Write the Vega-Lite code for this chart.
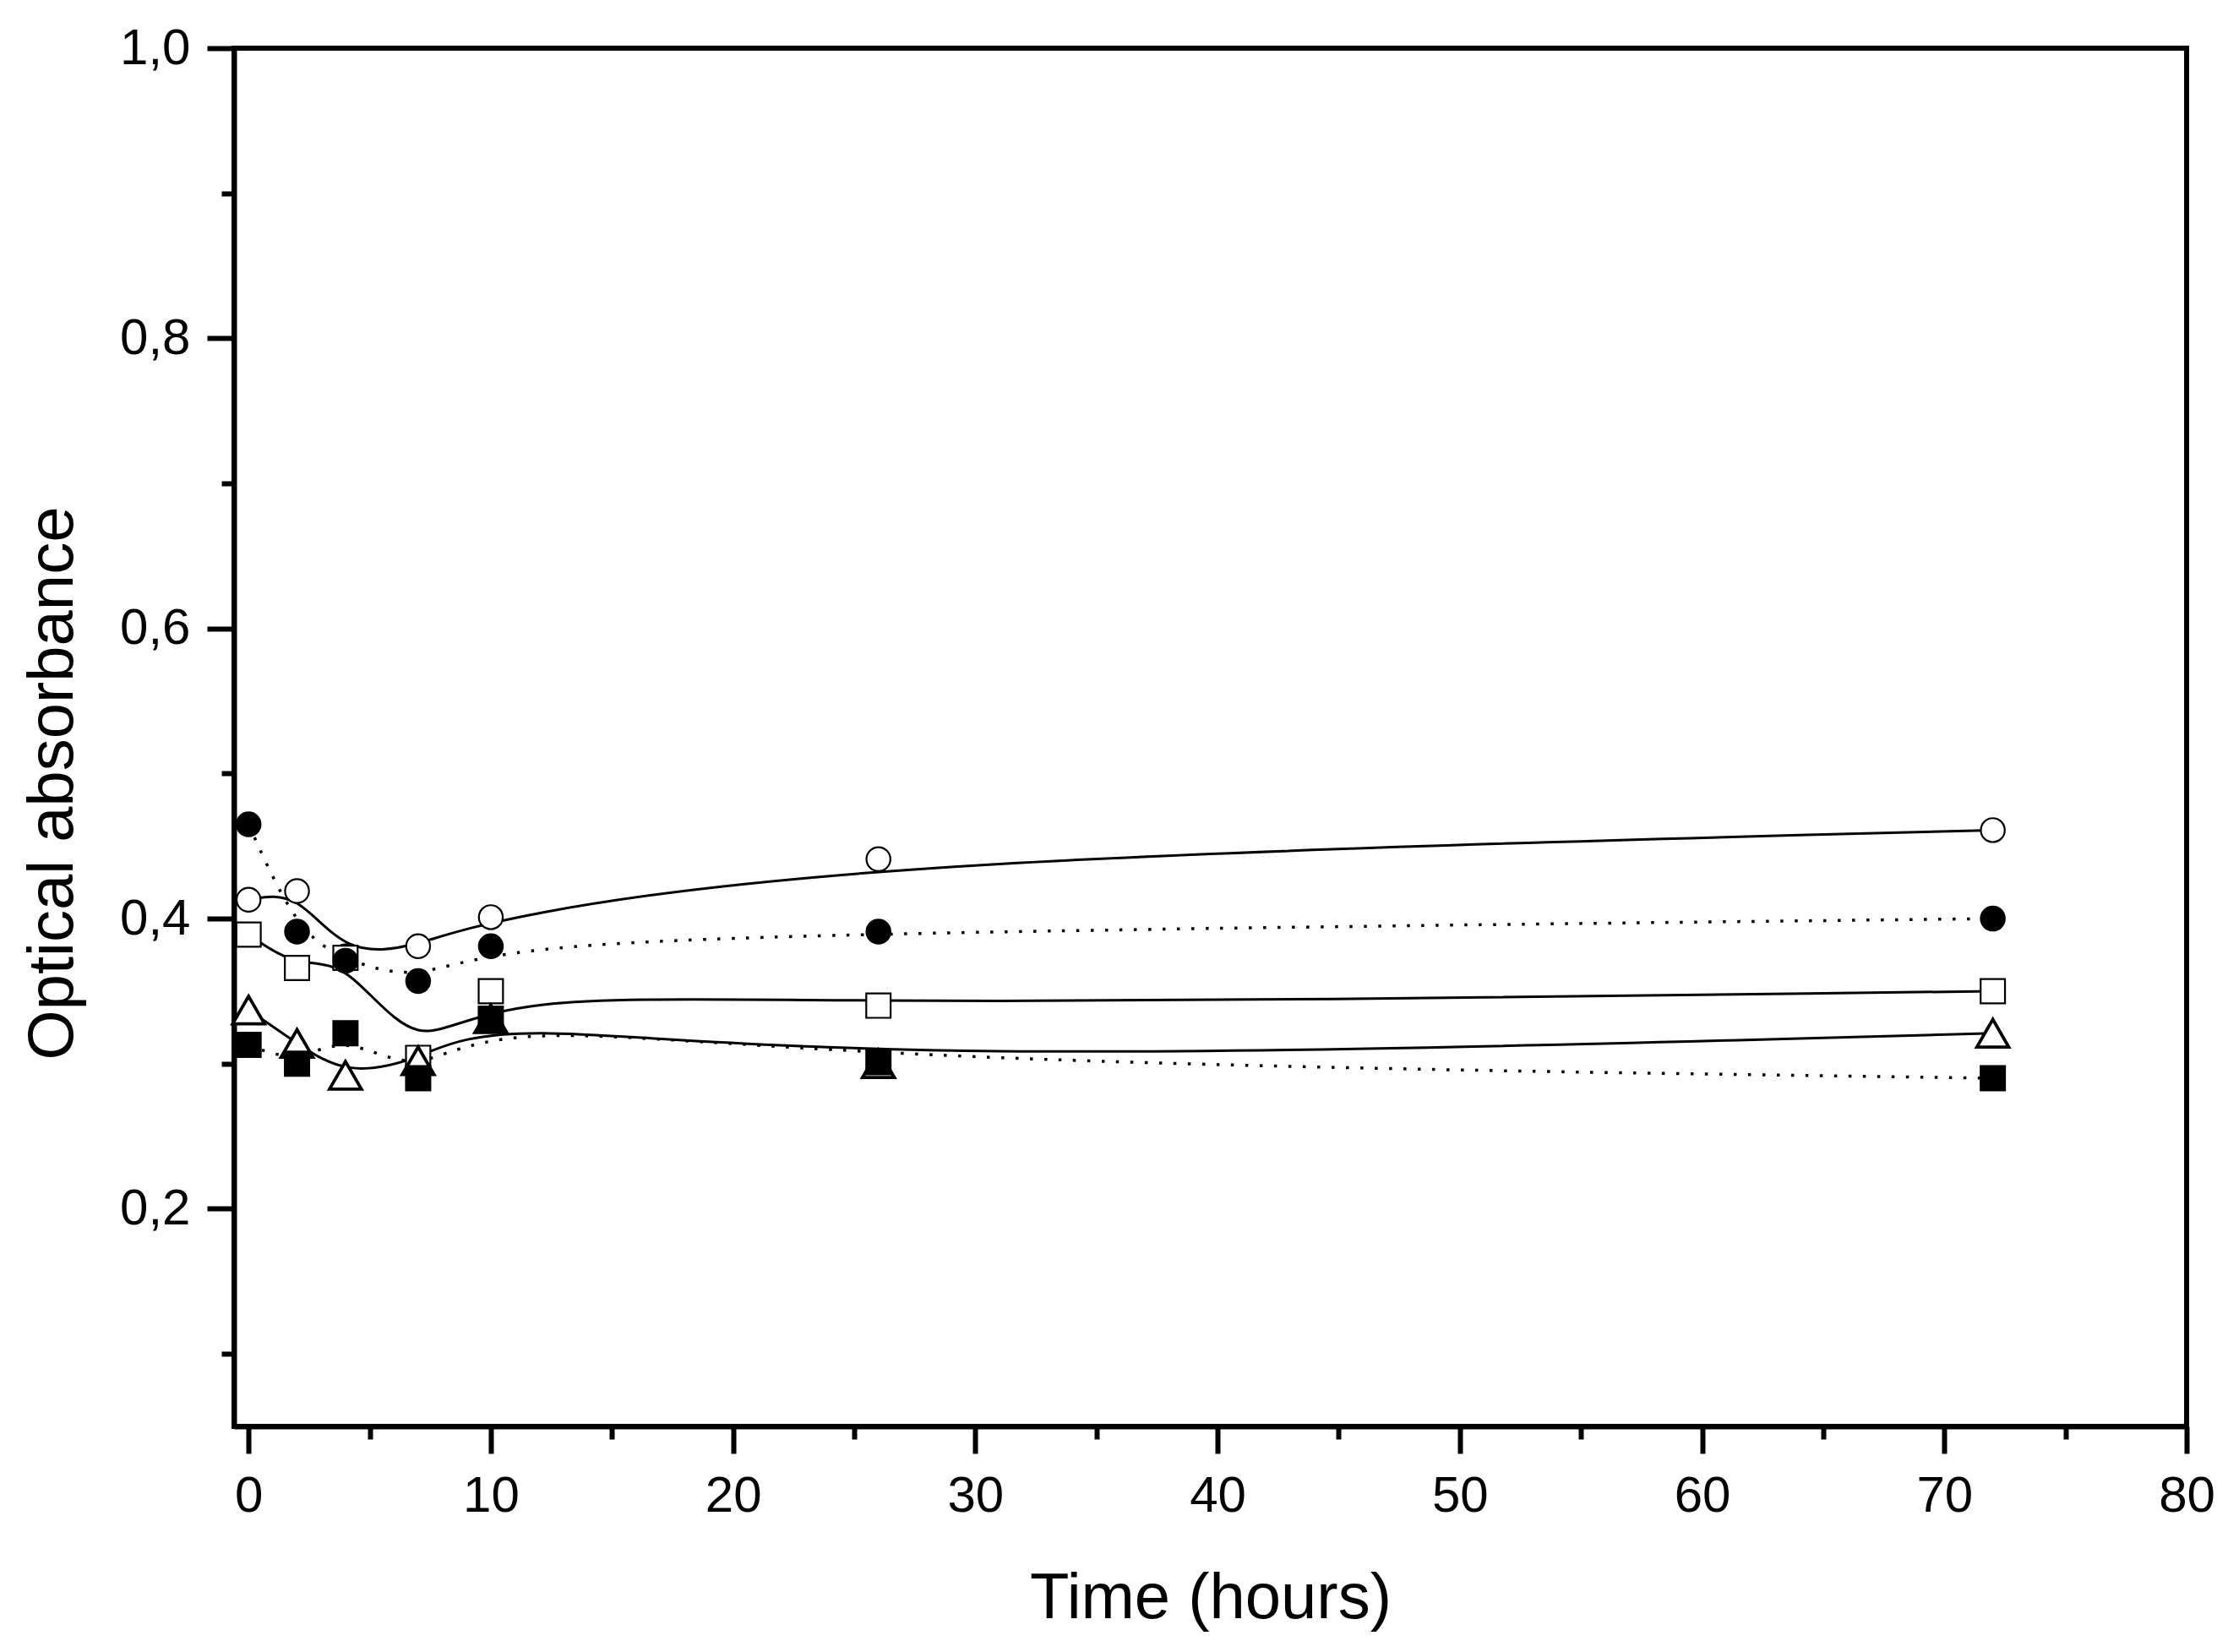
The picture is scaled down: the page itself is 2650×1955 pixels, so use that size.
{
  "$schema": "https://vega.github.io/schema/vega-lite/v6.json",
  "width": 2311,
  "height": 1631,
  "autosize": {"type": "none"},
  "padding": {"left": 277, "top": 57, "right": 62, "bottom": 267},
  "background": "white",
  "config": {
    "view": {"stroke": "black", "strokeWidth": 6},
    "font": "Liberation Sans",
    "axis": {"grid": false, "tickColor": "black", "tickWidth": 6, "domainColor": "black", "domainWidth": 6, "labelFont": "Liberation Sans", "labelColor": "black", "labelFontSize": 60, "titleFont": "Liberation Sans", "titleFontSize": 76, "titleFontWeight": "normal", "titleColor": "black", "labelFlush": false, "labelOverlap": false}
  },
  "data": {
    "values": [
      {"series": "open circles", "t": 0, "v": 0.413},
      {"series": "open circles", "t": 2, "v": 0.419},
      {"series": "open circles", "t": 4, "v": 0.374},
      {"series": "open circles", "t": 7, "v": 0.381},
      {"series": "open circles", "t": 10, "v": 0.401},
      {"series": "open circles", "t": 26, "v": 0.441},
      {"series": "open circles", "t": 72, "v": 0.461},
      {"series": "open squares", "t": 0, "v": 0.389},
      {"series": "open squares", "t": 2, "v": 0.366},
      {"series": "open squares", "t": 4, "v": 0.373},
      {"series": "open squares", "t": 7, "v": 0.304},
      {"series": "open squares", "t": 10, "v": 0.350},
      {"series": "open squares", "t": 26, "v": 0.340},
      {"series": "open squares", "t": 72, "v": 0.350},
      {"series": "open triangles", "t": 0, "v": 0.337},
      {"series": "open triangles", "t": 2, "v": 0.314},
      {"series": "open triangles", "t": 4, "v": 0.292},
      {"series": "open triangles", "t": 7, "v": 0.302},
      {"series": "open triangles", "t": 10, "v": 0.331},
      {"series": "open triangles", "t": 26, "v": 0.300},
      {"series": "open triangles", "t": 72, "v": 0.321},
      {"series": "filled circles", "t": 0, "v": 0.465},
      {"series": "filled circles", "t": 2, "v": 0.391},
      {"series": "filled circles", "t": 4, "v": 0.371},
      {"series": "filled circles", "t": 7, "v": 0.357},
      {"series": "filled circles", "t": 10, "v": 0.381},
      {"series": "filled circles", "t": 26, "v": 0.391},
      {"series": "filled circles", "t": 72, "v": 0.400},
      {"series": "filled squares", "t": 0, "v": 0.313},
      {"series": "filled squares", "t": 2, "v": 0.300},
      {"series": "filled squares", "t": 4, "v": 0.321},
      {"series": "filled squares", "t": 7, "v": 0.290},
      {"series": "filled squares", "t": 10, "v": 0.331},
      {"series": "filled squares", "t": 26, "v": 0.301},
      {"series": "filled squares", "t": 72, "v": 0.290}
    ]
  },
  "resolve": {"axis": {"x": "independent", "y": "independent"}},
  "layer": [
    {
      "transform": [{"filter": "datum.series == 'open circles' || datum.series == 'open squares' || datum.series == 'open triangles'"}],
      "mark": {"type": "line", "interpolate": "basis", "stroke": "black", "strokeWidth": 3},
      "encoding": {
        "x": {"field": "t", "type": "quantitative", "scale": {"domain": [-0.6, 80], "nice": false, "zero": false},
              "axis": {"orient": "bottom", "values": [5, 15, 25, 35, 45, 55, 65, 75], "tickSize": 15, "labels": false, "domain": false, "title": null}},
        "y": {"field": "v", "type": "quantitative", "scale": {"domain": [0.05, 1.0], "nice": false, "zero": false},
              "axis": {"orient": "left", "values": [0.1, 0.3, 0.5, 0.7, 0.9], "tickSize": 15, "labels": false, "domain": false, "title": null}},
        "detail": {"field": "series"}
      }
    },
    {
      "transform": [{"filter": "datum.series == 'filled circles' || datum.series == 'filled squares'"}],
      "mark": {"type": "line", "interpolate": "basis", "stroke": "black", "strokeWidth": 3.5, "strokeDash": [3.5, 13.5]},
      "encoding": {
        "x": {"field": "t", "type": "quantitative",
              "axis": {"orient": "bottom", "values": [0, 10, 20, 30, 40, 50, 60, 70, 80], "format": "d", "tickSize": 32, "labelPadding": 68, "labelBaseline": "alphabetic", "labelAlign": "center",
                       "title": "Time (hours)", "titleBaseline": "alphabetic", "titleAnchor": "middle", "titleX": 1155.5, "titleY": 226}},
        "y": {"field": "v", "type": "quantitative",
              "axis": {"orient": "left", "values": [0.2, 0.4, 0.6, 0.8, 1.0], "labelExpr": "replace(format(datum.value, '.1f'), '.', ',')", "tickSize": 32, "labelPadding": 20, "labelBaseline": "middle", "labelAlign": "right",
                       "title": "Optical absorbance", "titleAngle": 270, "titleAlign": "center", "titleBaseline": "alphabetic", "titleX": -192, "titleY": 869.5}},
        "detail": {"field": "series"}
      }
    },
    {
      "transform": [{"filter": "datum.series == 'open circles'"}],
      "mark": {"type": "point", "shape": "circle", "filled": true, "fill": "white", "stroke": "black", "strokeWidth": 2.2, "size": 800, "opacity": 1},
      "encoding": {"x": {"field": "t", "type": "quantitative", "axis": null}, "y": {"field": "v", "type": "quantitative", "axis": null}}
    },
    {
      "transform": [{"filter": "datum.series == 'open squares'"}],
      "mark": {"type": "point", "shape": "square", "filled": true, "fill": "white", "stroke": "black", "strokeWidth": 2.2, "size": 830, "opacity": 1},
      "encoding": {"x": {"field": "t", "type": "quantitative", "axis": null}, "y": {"field": "v", "type": "quantitative", "axis": null}}
    },
    {
      "transform": [{"filter": "datum.series == 'open triangles'"}],
      "mark": {"type": "point", "shape": "triangle-up", "filled": true, "fill": "white", "stroke": "black", "strokeWidth": 3.8, "strokeJoin": "miter", "size": 1420, "opacity": 1},
      "encoding": {"x": {"field": "t", "type": "quantitative", "axis": null}, "y": {"field": "v", "type": "quantitative", "axis": null}}
    },
    {
      "transform": [{"filter": "datum.series == 'filled circles'"}],
      "mark": {"type": "point", "shape": "circle", "filled": true, "fill": "black", "strokeWidth": 0, "size": 930, "opacity": 1},
      "encoding": {"x": {"field": "t", "type": "quantitative", "axis": null}, "y": {"field": "v", "type": "quantitative", "axis": null}}
    },
    {
      "transform": [{"filter": "datum.series == 'filled squares'"}],
      "mark": {"type": "point", "shape": "square", "filled": true, "fill": "black", "strokeWidth": 0, "size": 960, "opacity": 1},
      "encoding": {"x": {"field": "t", "type": "quantitative", "axis": null}, "y": {"field": "v", "type": "quantitative", "axis": null}}
    }
  ]
}
